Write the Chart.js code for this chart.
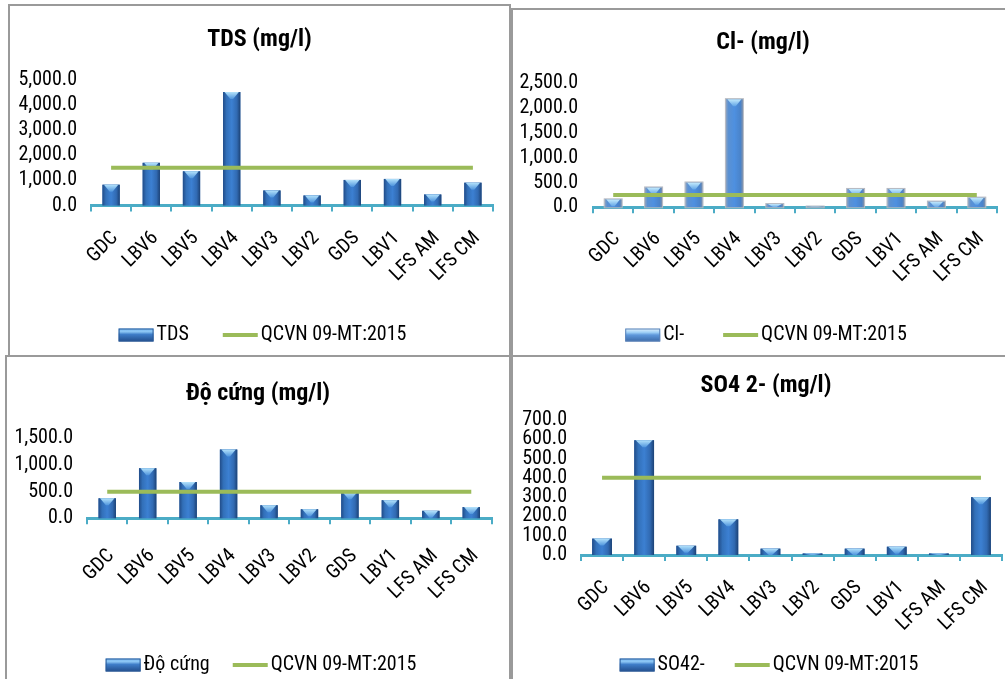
<!DOCTYPE html>
<html>
<head>
<meta charset="utf-8">
<script src="https://cdn.jsdelivr.net/npm/chart.js@4.4.1/dist/chart.umd.min.js"></script>
<style>
  html, body { margin: 0; padding: 0; background: #fff; width: 1005px; height: 679px; overflow: hidden; }
  .panel { position: absolute; box-sizing: border-box; border: 2px solid #9a9a9a; background: #fff; }
  canvas { display: block; }
</style>
</head>
<body>
<div class="panel" style="left:8px;top:4px;width:503px;height:353px"><canvas id="tds" width="499" height="349"></canvas></div>
<div class="panel" style="left:511px;top:8px;width:504px;height:349px"><canvas id="cl" width="500" height="345"></canvas></div>
<div class="panel" style="left:5px;top:355px;width:506px;height:334px"><canvas id="hard" width="502" height="330"></canvas></div>
<div class="panel" style="left:511px;top:355px;width:510px;height:334px"><canvas id="so4" width="506" height="330"></canvas></div>
<script>
// Sampling sites
const categories = ['GDC', 'LBV6', 'LBV5', 'LBV4', 'LBV3', 'LBV2', 'GDS', 'LBV1', 'LFS AM', 'LFS CM'];

// Measured concentrations (mg/l)
const tdsValues      = [830, 1700, 1360, 4520, 600, 400, 1020, 1060, 440, 910];
const clValues       = [160, 400, 500, 2180, 65, 15, 370, 370, 115, 195];
const hardnessValues = [375, 940, 680, 1290, 245, 170, 490, 340, 140, 210];
const so4Values      = [85, 595, 48, 185, 33, 8, 33, 43, 8, 300];

// QCVN 09-MT:2015 limits, one point per site
const tdsLimit      = [1500, 1500, 1500, 1500, 1500, 1500, 1500, 1500, 1500, 1500];
const clLimit       = [250, 250, 250, 250, 250, 250, 250, 250, 250, 250];
const hardnessLimit = [500, 500, 500, 500, 500, 500, 500, 500, 500, 500];
const so4Limit      = [400, 400, 400, 400, 400, 400, 400, 400, 400, 400];

// Y-axis tick values
const tdsTicks      = [0, 1000, 2000, 3000, 4000, 5000];
const clTicks       = [0, 500, 1000, 1500, 2000, 2500];
const hardnessTicks = [0, 500, 1000, 1500];
const so4Ticks      = [0, 100, 200, 300, 400, 500, 600, 700];

const FONT = "'Roboto Condensed', 'Liberation Sans', sans-serif";
const AXIS_COLOR = '#4bacc6';
const LIMIT_COLOR = '#9bbb59';
const LEGEND_FONT = 20;
const BOX_W = 34;

const fmt = v => Number(v).toLocaleString('en-US', { minimumFractionDigits: 1, maximumFractionDigits: 1 });

// Column shading (rounded look with a light bevel on top) and legend symbols
const barShade = {
  id: 'barShade',
  afterDatasetDraw(chart, args, opts) {
    if (args.meta.type !== 'bar') return;
    const ctx = chart.ctx;
    ctx.save();
    args.meta.data.forEach(bar => {
      const { x, y, base, width } = bar.getProps(['x', 'y', 'base', 'width'], true);
      const l = x - width / 2, r = x + width / 2, h = base - y;
      if (h <= 0) return;
      const g = ctx.createLinearGradient(l, 0, r, 0);
      opts.body.forEach(([p, c]) => g.addColorStop(p, c));
      ctx.fillStyle = g;
      ctx.fillRect(l, y, width, h);
      const bh = Math.min(7, h);
      const tg = ctx.createLinearGradient(0, y, 0, y + bh);
      tg.addColorStop(0, opts.capTop);
      tg.addColorStop(1, opts.capBottom);
      ctx.beginPath();
      ctx.moveTo(l + 1.5, y);
      ctx.lineTo(r - 1.5, y);
      ctx.lineTo(x + width * 0.08, y + bh);
      ctx.lineTo(x - width * 0.08, y + bh);
      ctx.closePath();
      ctx.fillStyle = tg;
      ctx.fill();
      if (opts.outline) {
        ctx.strokeStyle = opts.outline;
        ctx.lineWidth = 1;
        ctx.strokeRect(l - 0.5, y - 0.5, width + 1, h + 1);
      }
    });
    ctx.restore();
  },
  afterDraw(chart, args, opts) {
    const legend = chart.legend;
    if (!legend || !legend.legendHitBoxes) return;
    const ctx = chart.ctx;
    ctx.save();
    legend.legendHitBoxes.forEach((hb, i) => {
      const item = legend.legendItems[i];
      const ds = chart.data.datasets[item.datasetIndex];
      const textX = hb.left + BOX_W + LEGEND_FONT / 2;
      const right = textX - 3, left = right - 35;
      const cy = hb.top + LEGEND_FONT / 2;
      if (ds.type === 'bar') {
        const y0 = cy - 6.5, h = 13;
        const g = ctx.createLinearGradient(0, y0, 0, y0 + h);
        opts.legend.forEach(([p, c]) => g.addColorStop(p, c));
        ctx.fillStyle = g;
        ctx.fillRect(left, y0, right - left, h);
        ctx.strokeStyle = opts.legendEdge;
        ctx.lineWidth = 1;
        ctx.strokeRect(left + 0.5, y0 + 0.5, right - left - 1, h - 1);
      } else {
        ctx.strokeStyle = ds.borderColor;
        ctx.lineWidth = 4;
        ctx.beginPath();
        ctx.moveTo(left, cy);
        ctx.lineTo(right, cy);
        ctx.stroke();
      }
    });
    ctx.restore();
  }
};

const darkStyle = {
  body: [[0, '#214c88'], [0.2, '#3270b9'], [0.5, '#3c80d2'], [0.8, '#316ab2'], [1, '#1c4276']],
  capTop: '#b3e2fb', capBottom: '#4f95dd', outline: null,
  legend: [[0, '#7cbaf2'], [0.25, '#8cc6f4'], [0.45, '#3f7ec9'], [1, '#224e8c']],
  legendEdge: '#2a5a98'
};
const lightStyle = {
  body: [[0, '#8ea4c2'], [0.14, '#5b91d2'], [0.5, '#4e90e0'], [0.86, '#4a83c9'], [1, '#7f91ab']],
  capTop: '#c4ebfd', capBottom: '#62a5e6', outline: '#b4b8c0',
  legend: [[0, '#e4f3fd'], [0.3, '#9fd0f6'], [0.5, '#5e98db'], [1, '#3b6aa8']],
  legendEdge: '#5a82b8'
};

function makeChart(id, p) {
  const W = p.W, H = p.H;
  const side = W - p.right;
  const legendBottom = p.legendCenter + 20;
  const legendPad = p.legendGap - 6;
  new Chart(document.getElementById(id), {
    data: {
      labels: categories,
      datasets: [
        {
          type: 'line', label: 'QCVN 09-MT:2015', data: p.limit, order: 0, yAxisID: 'y',
          borderColor: LIMIT_COLOR, backgroundColor: LIMIT_COLOR, borderWidth: 4,
          pointRadius: 0, pointStyle: 'line', fill: false, tension: 0
        },
        {
          type: 'bar', label: p.series, data: p.values, order: 1, yAxisID: 'y',
          backgroundColor: '#3673bd', borderWidth: 0, pointStyle: 'rect',
          categoryPercentage: 1, barPercentage: p.barPct
        }
      ]
    },
    options: {
      responsive: false, animation: false, devicePixelRatio: 1,
      layout: { padding: { left: 0, top: 0, right: 0, bottom: H - legendBottom } },
      plugins: {
        title: {
          display: true, text: p.title, color: '#000',
          font: { family: FONT, size: 24, weight: 'bold' },
          padding: { top: p.titleCenter - 14.4, bottom: p.top - p.titleCenter - 14.4 }
        },
        legend: {
          position: 'bottom', reverse: true,
          labels: {
            usePointStyle: true, pointStyleWidth: BOX_W, boxHeight: 13, padding: legendPad,
            color: '#000', font: { family: FONT, size: LEGEND_FONT },
            generateLabels(chart) {
              return Chart.defaults.plugins.legend.labels.generateLabels(chart).map(it => Object.assign(it, {
                fillStyle: 'rgba(0,0,0,0)', strokeStyle: 'rgba(0,0,0,0)', lineWidth: 0
              }));
            }
          }
        },
        tooltip: { enabled: false },
        barShade: p.style
      },
      scales: {
        x: {
          z: 1,
          grid: { display: true, drawOnChartArea: false, drawTicks: true, tickLength: 6, color: AXIS_COLOR, lineWidth: 2 },
          border: { display: true, color: AXIS_COLOR, width: 3 },
          ticks: {
            color: '#000', font: { family: FONT, size: 20 }, minRotation: 45, maxRotation: 45,
            autoSkip: false, padding: p.xPad, labelOffset: 4
          },
          afterFit: s => { s.height = legendBottom - (20 + legendPad + 10) - p.bottom; }
        },
        y: {
          min: p.ticks[0], max: p.ticks[p.ticks.length - 1],
          grid: { display: false, drawTicks: false },
          border: { display: false },
          ticks: { stepSize: p.ticks[1] - p.ticks[0], autoSkip: false, color: '#000', font: { family: FONT, size: 20 }, padding: p.left - p.labelRight, callback: fmt },
          afterFit: s => { s.width = p.left; }
        },
        // empty right-hand margin so the plot area ends where the axis line stops
        margin: {
          type: 'linear', position: 'right',
          grid: { display: false, drawTicks: false }, border: { display: false }, ticks: { display: false },
          afterFit: s => { s.width = side; }
        }
      }
    },
    plugins: [barShade]
  });
}

makeChart('tds', {
  W: 499, H: 349, title: 'TDS (mg/l)', series: 'TDS', values: tdsValues, limit: tdsLimit, ticks: tdsTicks,
  titleCenter: 34, top: 74, bottom: 199.5, left: 81, right: 483, labelRight: 67, legendCenter: 329,
  barPct: 0.43, xPad: 15, legendGap: 34, style: darkStyle
});
makeChart('cl', {
  W: 500, H: 345, title: 'Cl- (mg/l)', series: 'Cl-', values: clValues, limit: clLimit, ticks: clTicks,
  titleCenter: 33, top: 73.3, bottom: 197.3, left: 80, right: 484, labelRight: 65, legendCenter: 325,
  barPct: 0.42, xPad: 14, legendGap: 39, style: lightStyle
});
makeChart('hard', {
  W: 502, H: 330, title: 'Độ cứng (mg/l)', series: 'Độ cứng', values: hardnessValues, limit: hardnessLimit, ticks: hardnessTicks,
  titleCenter: 37, top: 81.3, bottom: 161.3, left: 80, right: 487, labelRight: 66, legendCenter: 308,
  barPct: 0.43, xPad: 20, legendGap: 23, style: darkStyle
});
makeChart('so4', {
  W: 506, H: 330, title: 'SO4 2- (mg/l)', series: 'SO42-', values: so4Values, limit: so4Limit, ticks: so4Ticks,
  titleCenter: 28.7, top: 63, bottom: 198, left: 68, right: 489, labelRight: 54, legendCenter: 308,
  barPct: 0.47, xPad: 15, legendGap: 30, style: darkStyle
});
</script>
</body>
</html>
